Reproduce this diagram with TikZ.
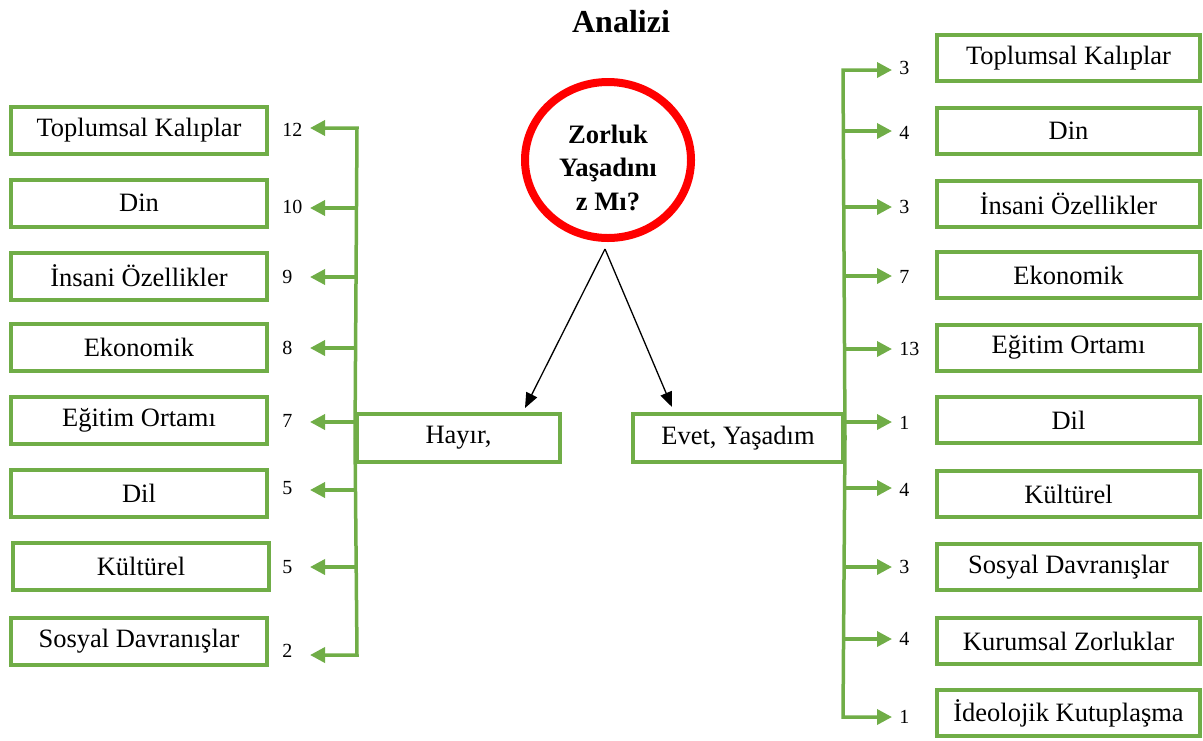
\documentclass[tikz,border=0pt]{standalone}
\usepackage{fontspec}
\setmainfont{Liberation Serif}
\usetikzlibrary{arrows.meta,shapes.geometric}
\definecolor{gr}{HTML}{70AD47}
\definecolor{rd}{HTML}{FF0000}
\begin{document}
\begin{tikzpicture}[x=0.5pt,y=-0.5pt,
 lbox/.style={draw=gr,line width=2pt,fill=white,minimum width=128pt,minimum height=23.5pt,inner sep=0pt,font=\fontsize{13.25pt}{15pt}\selectfont},
 rbox/.style={lbox,minimum width=131.5pt,minimum height=23pt},
 hbox/.style={lbox,minimum width=101.5pt,minimum height=24pt},
 ebox/.style={lbox,minimum width=105pt,minimum height=24pt},
 num/.style={anchor=west,inner sep=0pt,font=\fontsize{10pt}{12pt}\selectfont},
 gline/.style={draw=gr,line width=1.75pt},
 garrow/.style={gline,-{Triangle[length=7.5pt,width=7.5pt]}},
 barrow/.style={draw=black,line width=0.65pt,-{Triangle[length=7.5pt,width=6pt]}}]
\useasboundingbox (0,0) rectangle (1203,740);

% title
\node[font=\bfseries\fontsize{16pt}{19pt}\selectfont,anchor=base,inner sep=0pt] (title) at (621,32) {Analizi};

% central question
\node[draw=rd,line width=4pt,ellipse,minimum width=83pt,minimum height=78pt,fill=white] (q) at (608,160) {};
\node[font=\bfseries\fontsize{13.3pt}{16.75pt}\selectfont,align=center,inner sep=0pt] (qt) at (608,167.5) {Zorluk\\Yaşadını\\z Mı?};

% answer boxes
\node[hbox] (h) at (458.5,438) {Hayır,};
\node[ebox] (e) at (738,438) {Evet, Yaşadım};

\coordinate (qs) at (605,249);
\coordinate (hs) at (525,408);
\coordinate (es) at (672,407);
\draw[barrow] (qs) -- (hs);
\draw[barrow] (qs) -- (es);

% left side
\foreach \i/\x/\y/\t in {1/139/130/Toplumsal Kalıplar,2/139/203/Din,3/139/276/İnsani Özellikler,4/139/347.5/Ekonomik,5/139/420/Eğitim Ortamı,6/139/493/Dil,7/141/566/Kültürel,8/139/641/Sosyal Davranışlar}
  \node[lbox] (L\i) at (\x,\y) {\t};
\foreach \i/\y/\n/\ny in {1/128/12/130,2/208/10/207,3/277/9/277,4/348/8/348,5/422/7/421,6/490/5/488,7/567/5/567,8/655/2/651}{
  \coordinate (lt\i) at (357,\y);
  \coordinate (la\i) at (310,\y);
  \node[num] (ln\i) at (282,\ny) {\n};
}
\draw[garrow] (h.west) -- (lt1) -- (la1);
\draw[garrow] (h.west) -- (lt8) -- (la8);
\foreach \i in {2,...,7} \draw[garrow] (lt\i) -- (la\i);

% right side
\foreach \i/\y/\t in {1/58/Toplumsal Kalıplar,2/131/Din,3/204/İnsani Özellikler,4/275/Ekonomik,5/347.5/Eğitim Ortamı,6/420/Dil,7/494/Kültürel,8/567/Sosyal Davranışlar,9/641/Kurumsal Zorluklar,10/713/İdeolojik Kutuplaşma}
  \node[rbox] (R\i) at (1068.5,\y) {\t};
\foreach \i/\y/\n/\ny in {1/70/3/67.5,2/131/4/133,3/207/3/207,4/276/7/277,5/349/13/349,6/422/1/423,7/488/4/490,8/567/3/567,9/639/4/639,10/717/1/717}{
  \coordinate (rt\i) at (843,\y);
  \coordinate (ra\i) at (892,\y);
  \node[num] (rn\i) at (899,\ny) {\n};
}
\draw[garrow] (e.east) -- (rt1) -- (ra1);
\draw[garrow] (e.east) -- (rt10) -- (ra10);
\foreach \i in {2,...,9} \draw[garrow] (rt\i) -- (ra\i);
\end{tikzpicture}
\end{document}
